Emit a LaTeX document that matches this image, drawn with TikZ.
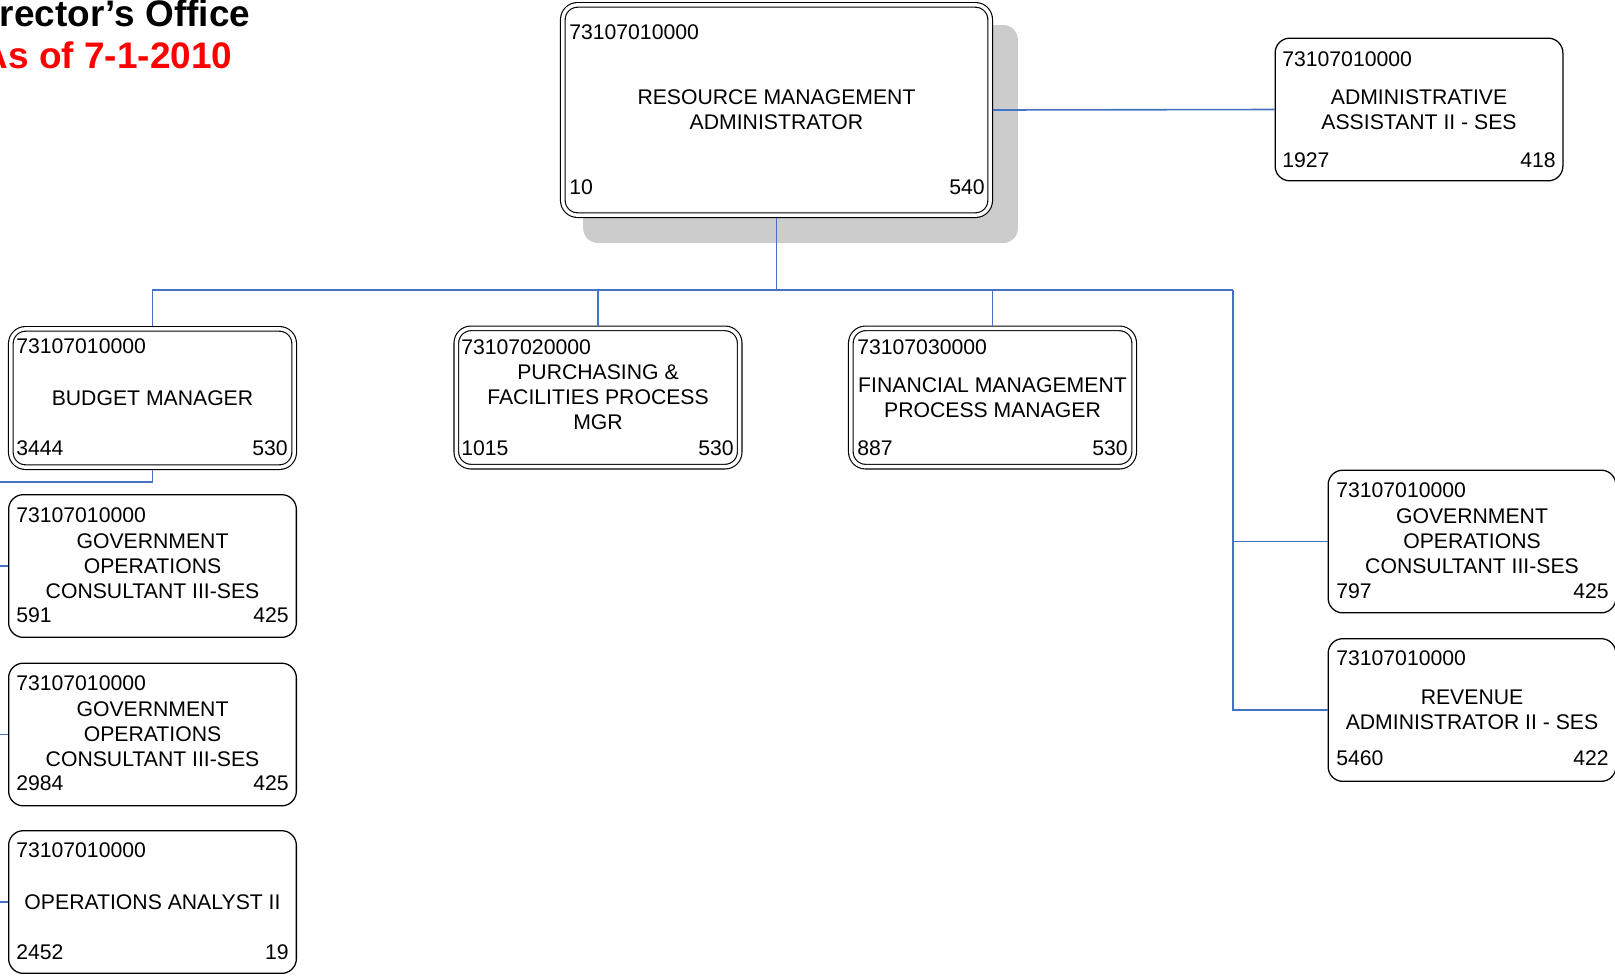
\documentclass[tikz,border=0pt]{standalone}
\usepackage{fontspec}
\setmainfont{Liberation Sans}
\usetikzlibrary{calc}

\definecolor{linkblue}{HTML}{4472C4}
\definecolor{shade}{HTML}{CCCCCC}

\tikzset{
  chart/.style={x=0.75pt, y=-0.75pt},
  boxtext/.style={font=\fontsize{15.9}{18.75}\selectfont},
  heading/.style={font=\fontsize{27.7}{31.5}\selectfont\bfseries, inner sep=0pt},
  tag/.style={boxtext, inner sep=0pt},
  post/.style={rectangle, rounded corners=11pt, draw=black, line width=0.95pt,
    fill=white, align=center, inner sep=0pt,
    minimum width=215.8pt, minimum height=107pt, boxtext},
  headpost/.style={post, line width=0.85pt, double=white, double distance=2.6pt,
    outer sep=2.15pt, minimum width=212.5pt, minimum height=103.7pt},
  shadowbox/.style={rectangle, rounded corners=11pt, fill=shade, draw=none,
    minimum width=326pt, minimum height=163.5pt, inner sep=0pt},
  link/.style={draw=linkblue, line width=1.2pt}
}

% code number at top left, position number bottom left, class bottom right
\newcommand\postnums[8]{%
  \node[tag, anchor=base west] (#1-code) at (#2,#4) {#6};
  \node[tag, anchor=base west] (#1-id) at (#2,#5) {#7};
  \node[tag, anchor=base east] (#1-grade) at (#3,#5) {#8};}

\begin{document}
\begin{tikzpicture}[chart]
\useasboundingbox (0,0) rectangle (1615,976);
\clip (0,0) rectangle (1615,976);

% heading
\node[heading, anchor=base] (title-office) at (106.5,26) {Director’s Office};
\node[heading, text=red, anchor=base] (title-date) at (107,68) {As of 7-1-2010};

% drop shadow of the top position
\node[shadowbox] (rma-shadow) at (800.5,134) {};

% positions
\node[headpost, minimum width=320.5pt, minimum height=157.7pt] (rma) at (776.5,110)
  {RESOURCE MANAGEMENT\\ADMINISTRATOR};
\node[post] (admin) at (1419,109.5) {ADMINISTRATIVE\\ASSISTANT II - SES};
\node[headpost] (budget) at (152.5,398) {BUDGET MANAGER};
\node[headpost] (purch) at (598,397.5) {PURCHASING \&\\FACILITIES PROCESS\\MGR};
\node[headpost] (fin) at (992.5,397.5) {FINANCIAL MANAGEMENT\\PROCESS MANAGER};
\node[post] (gov591) at (152.5,566) {GOVERNMENT\\OPERATIONS\\CONSULTANT III-SES};
\node[post] (gov2984) at (152.5,734.5) {GOVERNMENT\\OPERATIONS\\CONSULTANT III-SES};
\node[post] (opsan) at (152.5,902) {OPERATIONS ANALYST II};
\node[post] (gov797) at (1472,541.5) {GOVERNMENT\\OPERATIONS\\CONSULTANT III-SES};
\node[post] (rev) at (1472,710) {REVENUE\\ADMINISTRATOR II - SES};

% numbers inside the boxes
\postnums{rma}{569}{985}{39}{194}{73107010000}{10}{540}
\postnums{admin}{1282}{1556}{66}{167}{73107010000}{1927}{418}
\postnums{budget}{16}{288}{353}{455}{73107010000}{3444}{530}
\postnums{purch}{461}{734}{354}{455}{73107020000}{1015}{530}
\postnums{fin}{857}{1128}{354}{455}{73107030000}{887}{530}
\postnums{gov591}{16}{289}{522}{622}{73107010000}{591}{425}
\postnums{gov2984}{16}{289}{690}{790}{73107010000}{2984}{425}
\postnums{opsan}{16}{289}{857}{959}{73107010000}{2452}{19}
\postnums{gov797}{1336}{1609}{497}{598}{73107010000}{797}{425}
\postnums{rev}{1336}{1609}{665}{765}{73107010000}{5460}{422}

% reporting lines
\coordinate (hub) at (776.5,290);
\coordinate (rtrunk) at (1233,290);
\coordinate (ltrunk) at (-4,482);
\draw[link] (rma.east) -- (admin.west);
\draw[link] (rma.south) -- (hub);
\draw[link] (budget.north) |- (hub);
\draw[link] (hub) -- (rtrunk);
\draw[link] (purch.north) -- (purch.north |- hub);
\draw[link] (fin.north) -- (fin.north |- hub);
\draw[link] (rtrunk) |- (gov797.west);
\draw[link] (rtrunk) |- (rev.west);
\draw[link] (budget.south) |- (ltrunk);
\draw[link] (ltrunk) |- (gov591.west);
\draw[link] (ltrunk) |- (gov2984.west);
\draw[link] (ltrunk) |- (opsan.west);
\end{tikzpicture}
\end{document}
